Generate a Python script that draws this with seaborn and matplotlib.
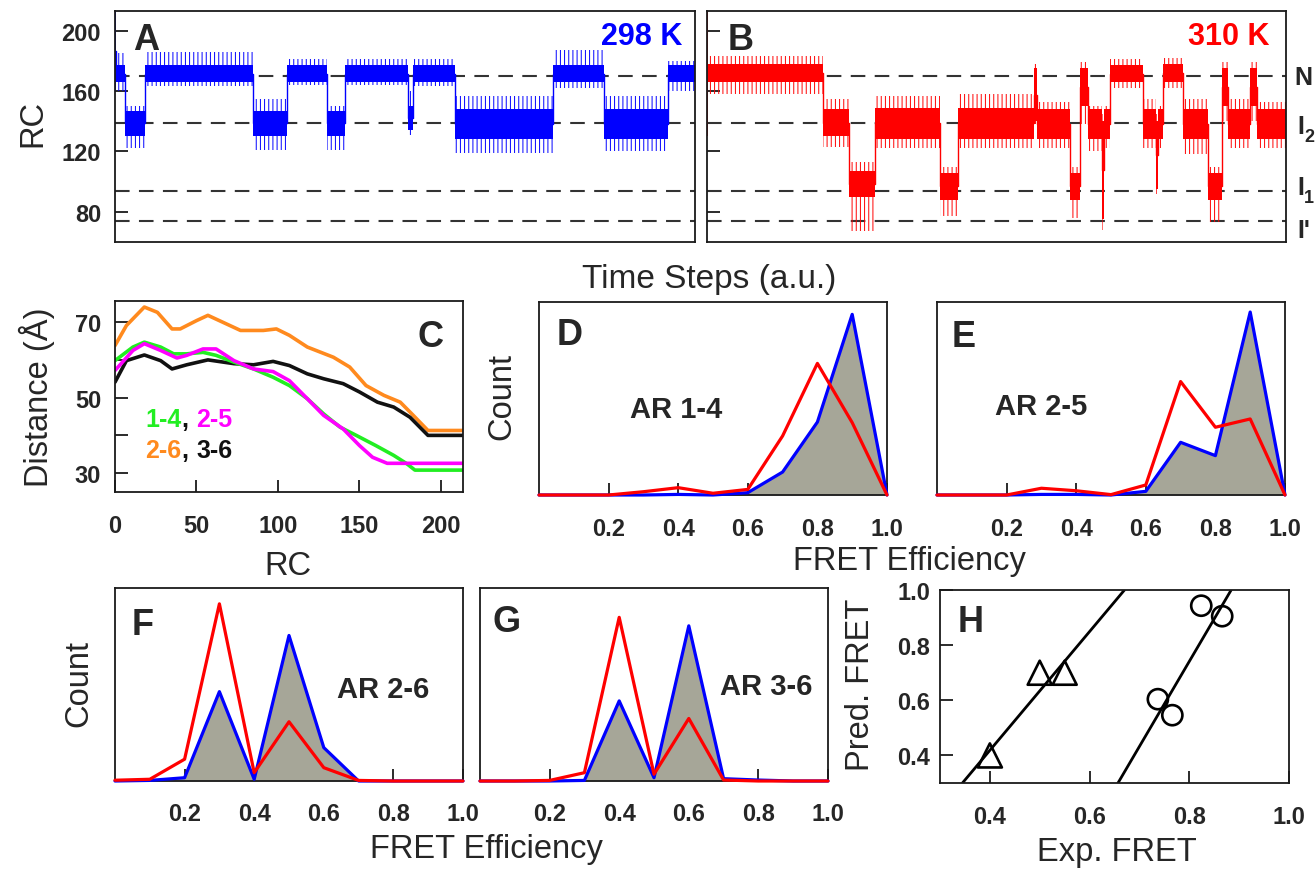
import matplotlib
matplotlib.use("Agg")
import matplotlib.pyplot as plt
import numpy as np
import pandas as pd
import seaborn as sns

# ------------------------------------------------------------------ data
# Panel A (298 K) trajectory: segment start times, dense core band and spike extent of RC
A_t = [0, 1, 10, 30, 138, 172, 212, 230, 293, 298, 340, 438, 489, 553]
A_end = 580
A_core_lo = [160, 166, 130, 166, 130, 166, 130, 166, 134, 166, 128, 166, 128, 166]
A_core_hi = [213, 177, 147, 177, 147, 177, 147, 177, 150, 177, 148, 177, 148, 177]
A_ext_lo = [160, 160, 122, 163, 121, 164, 121, 164, 131, 163, 119, 162, 120, 160]
A_ext_hi = [213, 185, 150, 186, 155, 181, 150, 181, 160, 181, 157, 187, 157, 180]

# Panel B (310 K) trajectory
B_t = [0, 1, 116, 142, 168, 233, 251, 327, 330, 363, 373, 381, 395, 397, 403,
       436, 449, 451, 456, 476, 501, 515, 521, 543, 550]
B_end = 579
B_core_lo = [130, 166, 130, 90, 128, 88, 128, 140, 128, 88, 150, 128, 75, 128, 166,
             128, 95, 128, 166, 128, 88, 150, 128, 150, 128]
B_core_hi = [213, 178, 148, 107, 149, 106, 149, 175, 148, 106, 175, 148, 140, 148, 177,
             148, 140, 148, 178, 148, 106, 175, 148, 175, 148]
B_ext_lo = [130, 158, 123, 67, 122, 77, 122, 138, 122, 76, 138, 120, 68, 122, 162,
            122, 92, 122, 162, 118, 73, 140, 122, 140, 122]
B_ext_hi = [213, 183, 155, 113, 157, 110, 158, 178, 153, 110, 179, 150, 145, 150, 181,
            155, 145, 150, 182, 155, 110, 179, 155, 179, 153]

state_levels = [170, 139, 94, 74]          # N, I2, I1, I'
rc_ticks = [80, 120, 160, 200]
rc_ticklabels = ["80", "120", "160", "200"]

# Panel C: distance vs RC
C_rc_14 = [0, 11, 18, 28, 36, 44, 54, 62, 73, 85, 97, 107, 118, 128, 138, 148, 160, 171, 179, 184, 214]
C_d_14 = [59.8, 63.4, 64.7, 63.4, 61.6, 61.6, 62.0, 61.2, 59.4, 57.6, 55.4, 53.2, 49.7, 45.7, 42.2,
          40.0, 37.3, 34.7, 32.5, 30.8, 30.8]
C_rc_25 = [0, 11, 18, 28, 38, 44, 54, 62, 73, 85, 97, 107, 118, 128, 140, 150, 158, 167, 214]
C_d_25 = [57.2, 62.5, 64.3, 62.5, 60.5, 61.2, 62.9, 62.9, 59.8, 57.6, 56.9, 54.5, 49.7, 45.3, 41.7,
          37.3, 34.2, 32.6, 32.6]
C_rc_26 = [0, 7, 18, 26, 35, 40, 50, 57, 64, 77, 91, 99, 107, 118, 134, 144, 154, 165, 175, 183, 192, 214]
C_d_26 = [63.8, 69.1, 74.0, 72.6, 68.2, 68.2, 70.4, 71.8, 70.4, 67.8, 67.8, 68.2, 66.5, 63.4, 60.7,
          58.1, 53.2, 50.6, 48.8, 45.3, 41.3, 41.3]
C_rc_36 = [0, 7, 18, 28, 35, 44, 57, 73, 85, 97, 107, 118, 128, 140, 150, 161, 171, 181, 192, 214]
C_d_36 = [54.1, 59.8, 61.3, 59.8, 57.6, 58.7, 60.0, 59.0, 58.7, 59.6, 58.5, 56.3, 55.0, 53.7, 51.5,
          48.8, 47.5, 44.8, 40.0, 40.0]
C_xticks = [0, 50, 100, 150, 200]
C_xticklabels = ["0", "50", "100", "150", "200"]
C_yticks = [30, 40, 50, 60, 70]
C_yticklabels = ["30", "", "50", "", "70"]

# Panels D-G: FRET efficiency histograms (normalised counts)
fret_x = [0.0, 0.1, 0.2, 0.3, 0.4, 0.5, 0.6, 0.7, 0.8, 0.9, 1.0]
D_298 = [0, 0, 0, 0, 0.003, 0, 0.012, 0.119, 0.378, 0.936, 0]
D_310 = [0, 0, 0, 0.017, 0.038, 0.009, 0.029, 0.306, 0.682, 0.375, 0]
E_298 = [0, 0, 0, 0.003, 0.003, 0, 0.019, 0.273, 0.204, 0.948, 0]
E_310 = [0, 0, 0, 0.035, 0.022, 0.002, 0.052, 0.588, 0.351, 0.394, 0]
F_298 = [0, 0.003, 0.017, 0.463, 0.009, 0.754, 0.173, 0, 0, 0, 0]
F_310 = [0.004, 0.009, 0.113, 0.918, 0.043, 0.307, 0.069, 0.003, 0, 0, 0]
G_298 = [0, 0, 0, 0.003, 0.415, 0.017, 0.804, 0.012, 0.005, 0, 0]
G_310 = [0, 0, 0.003, 0.043, 0.848, 0.035, 0.324, 0.005, 0, 0, 0]
fret_ticks = [0.2, 0.4, 0.6, 0.8, 1.0]
fret_ticklabels = ["0.2", "0.4", "0.6", "0.8", "1.0"]

# Panel H: predicted vs experimental FRET
H_tri_exp = [0.40, 0.50, 0.55]
H_tri_pred = [0.40, 0.70, 0.70]
H_circ_exp = [0.737, 0.766, 0.824, 0.866]
H_circ_pred = [0.604, 0.546, 0.943, 0.905]
H_fit1_x = [0.345, 0.670]
H_fit1_y = [0.30, 1.00]
H_fit2_x = [0.657, 0.884]
H_fit2_y = [0.30, 1.00]
H_ticks = [0.4, 0.6, 0.8, 1.0]
H_ticklabels = ["0.4", "0.6", "0.8", "1.0"]

# ------------------------------------------------------------------ style
sns.set_theme(style="ticks")
plt.rcParams["font.family"] = ["Liberation Sans", "DejaVu Sans"]
plt.rcParams["axes.linewidth"] = 1.3
plt.rcParams["axes.edgecolor"] = "#1a1a1a"
plt.rcParams["hatch.linewidth"] = 0.7

BLUE, RED = "#0000ff", "#ff0000"
GRAY = "#a6a698"
TICK_FS, LBL_FS, LET_FS = 17, 23.5, 26

W, H = 1316, 870
fig = plt.figure(figsize=(W / 100, H / 100), dpi=100)
fig.patch.set_facecolor("white")


def add_ax(x0, y0, x1, y1):
    return fig.add_axes([x0 / W, 1 - y1 / H, (x1 - x0) / W, (y1 - y0) / H])


def ftext(x, y, s, **kw):
    kw.setdefault("ha", "left")
    kw.setdefault("va", "baseline")
    fig.text(x / W, 1 - y / H, s, **kw)


def style_ticks(ax, pad_x=16, pad_y=10):
    ax.tick_params(direction="in", length=9, width=1.3, color="#1a1a1a")
    ax.tick_params(axis="x", pad=pad_x)
    ax.tick_params(axis="y", pad=pad_y)


def draw_trace(ax, t, end, core_lo, core_hi, ext_lo, ext_hi, color):
    x = np.array(list(t) + [end], float)

    def ext(a):
        return np.array(list(a) + [a[-1]], float)

    # sparse spikes of the noisy trace -> vertical hatching up to the spike extent
    ax.fill_between(x, ext(ext_lo), ext(ext_hi), step="post", facecolor="none",
                    edgecolor=color, hatch="||||", lw=0, zorder=2)
    # dense core of the noisy trace
    ax.fill_between(x, ext(core_lo), ext(core_hi), step="post", color=color,
                    lw=0, zorder=2.1)
    level = (ext(core_lo) + ext(core_hi)) / 2
    ax.plot(x, level, drawstyle="steps-post", color=color, lw=1.0, zorder=2.2)


# ------------------------------------------------------------------ A, B
axA = add_ax(115, 12, 695, 243)
axB = add_ax(707, 12, 1286, 243)
for ax, t, end, clo, chi, elo, ehi, col in [
        (axA, A_t, A_end, A_core_lo, A_core_hi, A_ext_lo, A_ext_hi, BLUE),
        (axB, B_t, B_end, B_core_lo, B_core_hi, B_ext_lo, B_ext_hi, RED)]:
    draw_trace(ax, t, end, clo, chi, elo, ehi, col)
    for lv in state_levels:
        ax.axhline(lv, color="#333333", lw=1.5, dashes=(7, 4.5), zorder=1)
    ax.set_xlim(0, end)
    ax.set_ylim(60, 213)
    ax.set_xticks([])
    style_ticks(ax)
axA.set_yticks(rc_ticks, rc_ticklabels, fontweight="bold", fontsize=TICK_FS)
axB.set_yticks(rc_ticks, [""] * len(rc_ticks))

ftext(41, 123, "RC", rotation=90, rotation_mode="anchor", ha="center",
      fontsize=LBL_FS)
ftext(709, 288, "Time Steps (a.u.)", ha="center", fontsize=24)
ftext(133, 50, "A", fontsize=LET_FS, fontweight="bold")
ftext(682, 45, "298 K", ha="right", fontsize=22, fontweight="bold", color=BLUE)
ftext(728, 50, "B", fontsize=LET_FS, fontweight="bold")
ftext(1270, 45, "310 K", ha="right", fontsize=22, fontweight="bold", color=RED)
ftext(1294, 85, "N", fontsize=18, fontweight="bold")
ftext(1297, 134, "I", fontsize=18, fontweight="bold")
ftext(1304, 142, "2", fontsize=13, fontweight="bold")
ftext(1297, 195, "I", fontsize=18, fontweight="bold")
ftext(1304, 203, "1", fontsize=13, fontweight="bold")
ftext(1297, 238, "I'", fontsize=18, fontweight="bold")

# ------------------------------------------------------------------ C
axC = add_ax(115, 302, 463, 493)
for rc, d, col in [(C_rc_26, C_d_26, "#ff8a1e"), (C_rc_36, C_d_36, "#111111"),
                   (C_rc_14, C_d_14, "#22ee22"), (C_rc_25, C_d_25, "#ff00ff")]:
    sns.lineplot(x=rc, y=d, color=col, lw=2.6, ax=axC, sort=False, estimator=None)
axC.set_xlim(0, 213.5)
axC.set_ylim(25, 75.6)
axC.set_xticks(C_xticks, C_xticklabels, fontweight="bold", fontsize=TICK_FS)
axC.set_yticks(C_yticks, C_yticklabels, fontweight="bold", fontsize=TICK_FS)
style_ticks(axC, pad_x=16, pad_y=10)
ftext(288, 575, "RC", ha="center", fontsize=LBL_FS)
ftext(48, 397, "Distance (Å)", rotation=90, rotation_mode="anchor", ha="center",
      fontsize=LBL_FS)
ftext(418, 347, "C", fontsize=LET_FS, fontweight="bold")
ftext(145, 427, "1-4", fontsize=18, fontweight="bold", color="#22ee22")
ftext(181, 427, ",", fontsize=18, fontweight="bold", color="#111111")
ftext(196, 427, "2-5", fontsize=18, fontweight="bold", color="#ff00ff")
ftext(145, 458, "2-6", fontsize=18, fontweight="bold", color="#ff8a1e")
ftext(181, 458, ",", fontsize=18, fontweight="bold", color="#111111")
ftext(196, 458, "3-6", fontsize=18, fontweight="bold", color="#111111")


# ------------------------------------------------------------------ D-G
def fret_panel(ax, y298, y310, pad_x):
    df = pd.DataFrame({"E": fret_x * 2, "count": list(y298) + list(y310),
                       "T": ["298 K"] * len(fret_x) + ["310 K"] * len(fret_x)})
    ax.fill_between(fret_x, y298, 0, color=GRAY, lw=0, zorder=1)
    sns.lineplot(data=df, x="E", y="count", hue="T",
                 palette={"298 K": BLUE, "310 K": RED}, lw=2.3, legend=False,
                 ax=ax, clip_on=False, zorder=3, estimator=None)
    ax.set_xlim(0, 1)
    ax.set_ylim(0, 1)
    ax.set_xlabel("")
    ax.set_ylabel("")
    ax.set_xticks(fret_ticks, fret_ticklabels, fontweight="bold", fontsize=TICK_FS)
    ax.set_yticks([])
    ax.set_axisbelow(True)
    style_ticks(ax, pad_x=pad_x)


axD = add_ax(539, 303, 887, 496)
axE = add_ax(937, 303, 1285, 496)
axF = add_ax(115, 589, 463, 782)
axG = add_ax(480, 589, 828, 782)
fret_panel(axD, D_298, D_310, 16)
fret_panel(axE, E_298, E_310, 16)
fret_panel(axF, F_298, F_310, 15)
fret_panel(axG, G_298, G_310, 15)

ftext(510, 397, "Count", rotation=90, rotation_mode="anchor", ha="center", fontsize=LBL_FS)
ftext(87, 684, "Count", rotation=90, rotation_mode="anchor", ha="center", fontsize=LBL_FS)
ftext(909, 570, "FRET Efficiency", ha="center", fontsize=LBL_FS)
ftext(486, 858, "FRET Efficiency", ha="center", fontsize=LBL_FS)
ftext(557, 345, "D", fontsize=LET_FS, fontweight="bold")
ftext(630, 418, "AR 1-4", fontsize=21, fontweight="bold")
ftext(952, 347, "E", fontsize=LET_FS, fontweight="bold")
ftext(995, 415, "AR 2-5", fontsize=21, fontweight="bold")
ftext(132, 635, "F", fontsize=LET_FS, fontweight="bold")
ftext(337, 698, "AR 2-6", fontsize=21, fontweight="bold")
ftext(492, 632, "G", fontsize=LET_FS, fontweight="bold")
ftext(720, 695, "AR 3-6", fontsize=21, fontweight="bold")

# ------------------------------------------------------------------ H
axH = add_ax(940, 591, 1289, 784)
sns.lineplot(x=H_fit1_x, y=H_fit1_y, color="black", lw=2.0, ax=axH)
sns.lineplot(x=H_fit2_x, y=H_fit2_y, color="black", lw=2.0, ax=axH)
sns.scatterplot(x=H_tri_exp, y=H_tri_pred, marker="^", s=300, color="black",
                edgecolor="black", linewidth=1.9, ax=axH, zorder=3)
sns.scatterplot(x=H_circ_exp, y=H_circ_pred, marker="o", s=210, color="black",
                edgecolor="black", linewidth=1.9, ax=axH, zorder=3)
for coll in axH.collections:
    coll.set_facecolor("none")
axH.set_xlim(0.3, 1.0)
axH.set_ylim(0.3, 1.0)
axH.set_xticks(H_ticks, H_ticklabels, fontweight="bold", fontsize=TICK_FS)
axH.set_yticks(H_ticks, H_ticklabels, fontweight="bold", fontsize=TICK_FS)
style_ticks(axH, pad_x=16, pad_y=7)
ftext(1117, 861, "Exp. FRET", ha="center", fontsize=LBL_FS)
ftext(869, 685, "Pred. FRET", rotation=90, rotation_mode="anchor", ha="center",
      fontsize=LBL_FS)
ftext(958, 632, "H", fontsize=LET_FS, fontweight="bold")

fig.savefig("out.png", dpi=100, facecolor="white")
